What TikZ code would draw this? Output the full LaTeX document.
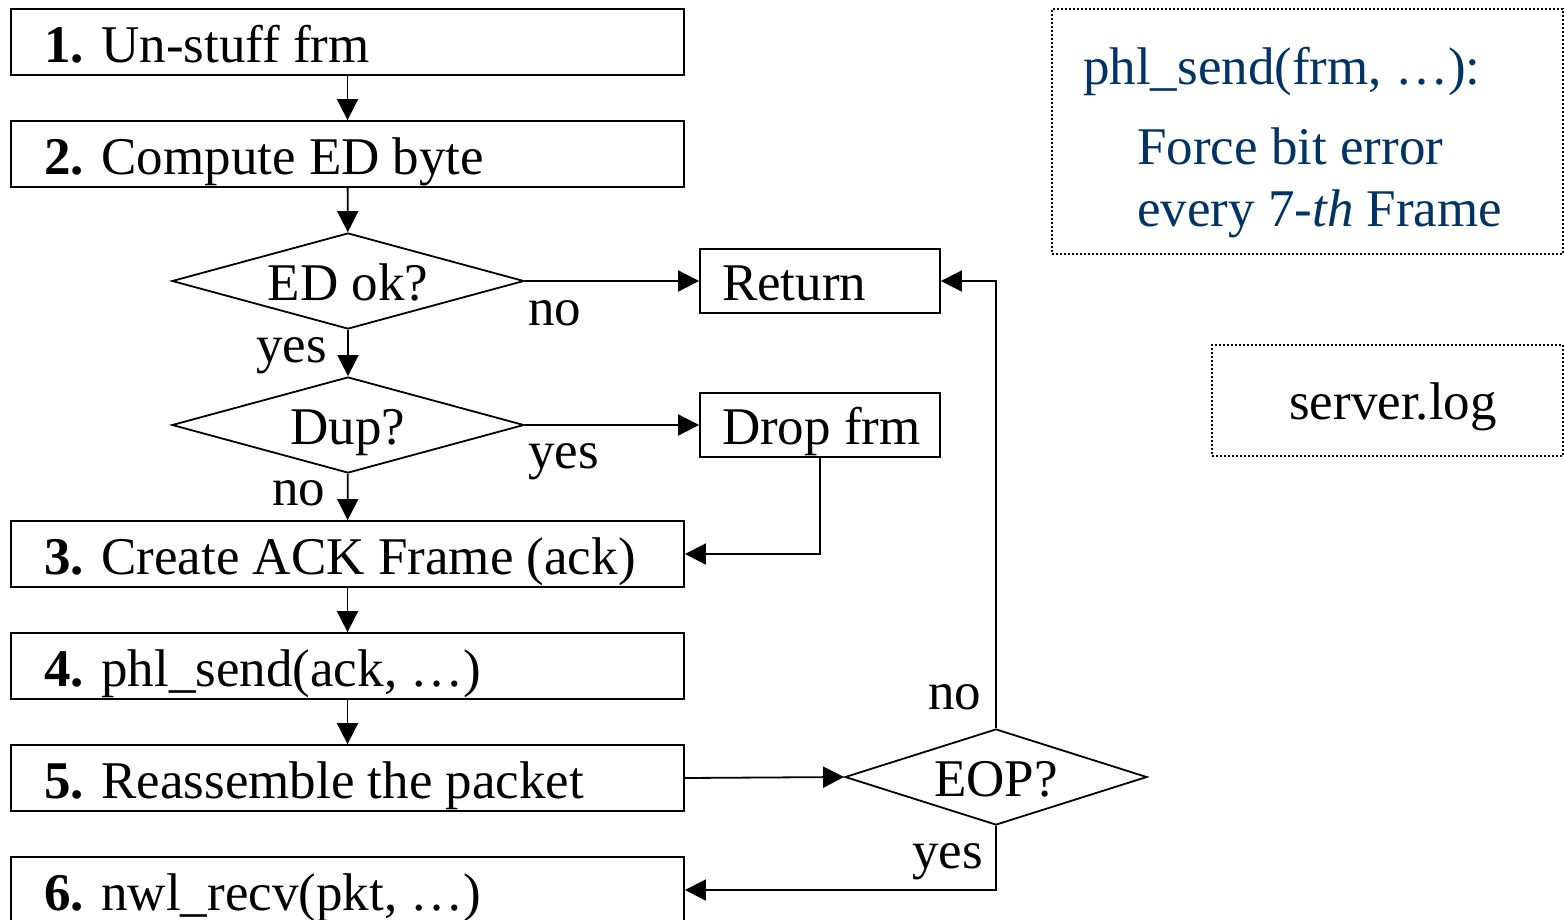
\documentclass[tikz,border=0pt]{standalone}
\usepackage{fontspec}
\setmainfont{Liberation Serif}
\usetikzlibrary{shapes.geometric,arrows.meta}
\definecolor{navy}{RGB}{0,51,102}
\newcommand\procline[1]{\makebox[607pt][l]{#1}}
\newcommand\sideline[1]{\makebox[196pt][l]{#1}}
\begin{document}
\begin{tikzpicture}[x=1pt,y=-1pt,
  every node/.style={font=\fontsize{53}{60}\selectfont},
  proc/.style={draw, line width=1.8pt, rectangle, minimum height=66pt,
    inner ysep=0pt, inner xsep=33pt,
    text height=40pt, text depth=0pt},
  side/.style={draw, line width=1.8pt, rectangle, minimum height=64pt,
    inner ysep=0pt, inner xsep=22pt,
    text height=39pt, text depth=0pt},
  dec/.style={draw, line width=1.8pt, diamond, inner sep=0pt,
    minimum height=96pt, text height=38pt, text depth=0pt},
  lbl/.style={inner sep=0pt, anchor=base west},
  note/.style={draw, line width=1.8pt, dash pattern=on 2pt off 2pt, rectangle, inner sep=0pt},
  arr/.style={line width=1.8pt, -{Triangle[length=21pt,width=21pt]}}
]
\useasboundingbox (0,0) rectangle (1564,919);
\clip (0,0) rectangle (1564,919);

% process boxes
\node[proc] (b1) at (347.5,42) {\procline{\textbf{1.} Un-stuff frm}};
\node[proc] (b2) at (347.5,154) {\procline{\textbf{2.} Compute ED byte}};
\node[proc] (b3) at (347.5,554) {\procline{\textbf{3.} Create ACK Frame (ack)}};
\node[proc] (b4) at (347.5,666) {\procline{\textbf{4.} phl\_send(ack, …)}};
\node[proc] (b5) at (347.5,778) {\procline{\textbf{5.} Reassemble the packet}};
\node[proc] (b6) at (347.5,890) {\procline{\textbf{6.} nwl\_recv(pkt, …)}};

% decisions
\node[dec, minimum width=352pt, aspect=3.67] (d1) at (348,281) {ED ok?};
\node[dec, minimum width=352pt, aspect=3.67] (d2) at (348,425) {Dup?};
\node[dec, minimum width=302pt, aspect=3.15] (eop) at (996,777) {EOP?};

% side boxes
\node[side] (ret) at (820,281) {\sideline{Return}};
\node[side] (drop) at (820,425) {\sideline{Drop frm}};

% connectors
\draw[arr] (b1) -- (b2);
\draw[arr] (b2) -- (d1);
\draw[arr] (d1.east) -- (ret);
\draw[arr] (d1) -- (d2);
\draw[arr] (d2.east) -- (drop);
\draw[arr] (d2) -- (b3);
\draw[arr] (drop.south) |- (b3.east);
\draw[arr] (b3) -- (b4);
\draw[arr] (b4) -- (b5);
\draw[arr] (b5.east) -- (eop.west);
\draw[arr] (eop.north) |- (ret.east);
\draw[arr] (eop.south) |- (b6.east);

% connector labels
\node[lbl] (l1) at (528,325) {no};
\node[lbl] (l2) at (256,362) {yes};
\node[lbl] (l3) at (528,468) {yes};
\node[lbl] (l4) at (272,505) {no};
\node[lbl] (l5) at (928,709) {no};
\node[lbl] (l6) at (912,868) {yes};

% notes
\node[note, minimum width=511pt, minimum height=245pt] (n1) at (1307.5,131.5) {};
\node[lbl, text=navy] (t1) at (1083,84) {phl\_send(frm, …):};
\node[lbl, text=navy] (t2) at (1137,164) {Force bit error};
\node[lbl, text=navy] (t3) at (1137,226) {every 7-\textit{th} Frame};
\node[note, minimum width=351pt, minimum height=111pt] (n2) at (1387.5,400.5) {};
\node[lbl] (t4) at (1289,419) {server.log};
\end{tikzpicture}
\end{document}
